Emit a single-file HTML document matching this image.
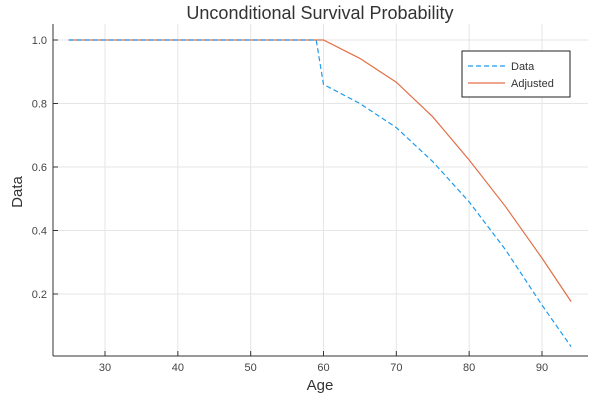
<!DOCTYPE html>
<html><head><meta charset="utf-8"><style>
body{margin:0;background:#fff}
svg{display:block;font-family:"Liberation Sans",sans-serif}
</style></head><body>
<svg id="c" width="600" height="400">
<text x="320" y="19" text-anchor="middle" font-size="18" fill="#333">Unconditional Survival Probability</text>
<g id="grid"></g><g id="ticks"></g><g id="series"></g>
<line x1="53" y1="356" x2="588" y2="356" stroke="#333"/>
<line x1="53" y1="24" x2="53" y2="356" stroke="#333"/>
<text x="320" y="390" text-anchor="middle" font-size="15" fill="#333">Age</text>
<text transform="translate(22,192) rotate(-90)" text-anchor="middle" font-size="15" fill="#333">Data</text>
<g>
<rect x="462" y="51" width="108" height="46" fill="#fff" stroke="#222"/>
<line x1="468" y1="66" x2="505" y2="66" stroke="#1e9bf0" stroke-dasharray="5,3" stroke-width="1.2"/>
<text x="511" y="70" font-size="11" fill="#333">Data</text>
<line x1="468" y1="83" x2="505" y2="83" stroke="#e26f46" stroke-width="1.2"/>
<text x="511" y="87" font-size="11" fill="#333">Adjusted</text>
</g>
</svg>
<script>
const ages=[25,59,60,65,70,75,80,85,90,94];
const dataVals=[1,1,0.86,0.80,0.724,0.617,0.49,0.339,0.165,0.034];
const adjVals=[1,1,1,0.942,0.867,0.758,0.622,0.475,0.313,0.176];
const xTicks=[30,40,50,60,70,80,90];
const yTicks=[0.2,0.4,0.6,0.8,1.0];
const NS="http://www.w3.org/2000/svg";
const X=v=>68.6+(v-25)*7.283;
const Y=v=>357.5-v*317.5;
function mk(t,a,p){const e=document.createElementNS(NS,t);for(const k in a)e.setAttribute(k,a[k]);document.getElementById(p).appendChild(e);return e;}
xTicks.forEach(t=>{
 const g=mk('line',{x1:X(t),x2:X(t),y1:24,y2:356,stroke:'#e6e6e6'},'grid');
 
 
 mk('line',{x1:X(t),x2:X(t),y1:356,y2:351,stroke:'#333'},'ticks');
 const l=mk('text',{x:X(t),y:371,'text-anchor':'middle','font-size':11,fill:'#444'},'ticks');l.textContent=t;
 
 
});
yTicks.forEach(t=>{
 const g=mk('line',{x1:53,x2:588,y1:Y(t),y2:Y(t),stroke:'#e6e6e6'},'grid');
 
 
 mk('line',{x1:53,x2:58,y1:Y(t),y2:Y(t),stroke:'#333'},'ticks');
 const l=mk('text',{x:47,y:Y(t)+4,'text-anchor':'end','font-size':11,fill:'#444'},'ticks');l.textContent=t.toFixed(1);
 
 
});
const pts=v=>ages.map((a,i)=>X(a)+','+Y(v[i])).join(' ');
const a=mk('polyline',{points:pts(adjVals),fill:'none',stroke:'#e26f46','stroke-width':1.2},'series');


const d=mk('polyline',{points:pts(dataVals),fill:'none',stroke:'#1e9bf0','stroke-width':1.2,'stroke-dasharray':'5,3'},'series');


</script>
</body></html>
